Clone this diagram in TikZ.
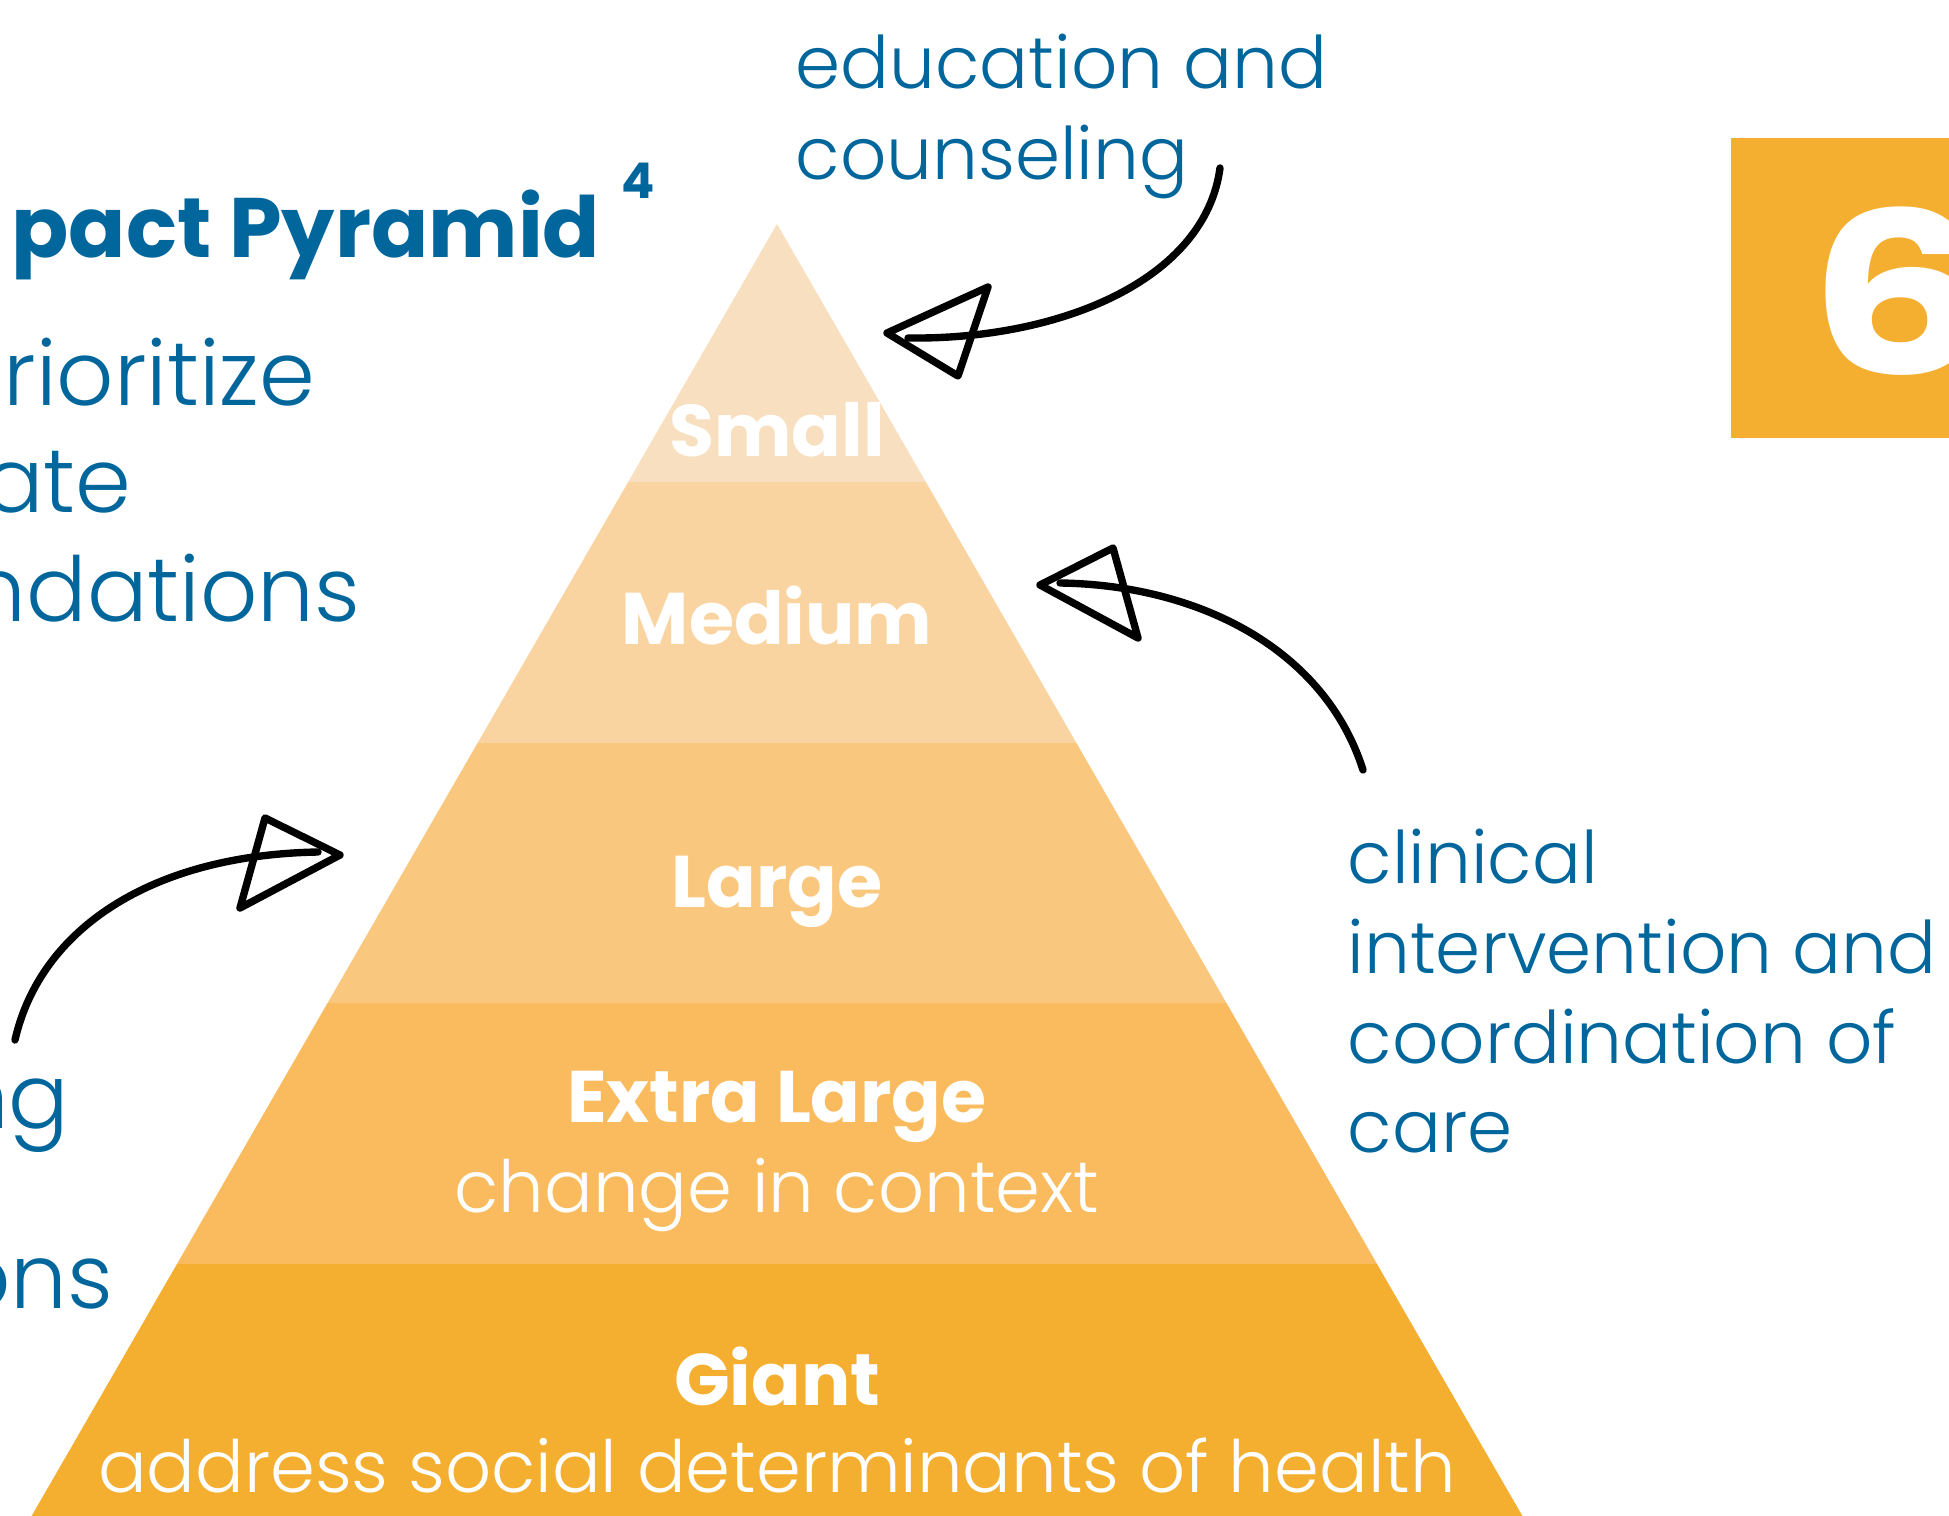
\documentclass[tikz,border=0pt]{standalone}
\usepackage{fontspec}
\setmainfont{Poppins}
\IfFontExistsTF{Poppins Light}{\newfontfamily\lightfont{Poppins Light}}{\newfontfamily\lightfont{Poppins}}
\definecolor{tblue}{HTML}{00669C}
\definecolor{bandA}{HTML}{F8DFBF}
\definecolor{bandB}{HTML}{FAD4A0}
\definecolor{bandC}{HTML}{FAC77E}
\definecolor{bandD}{HTML}{F9BB5D}
\definecolor{bandE}{HTML}{F4AF31}
\definecolor{boxorange}{HTML}{F4AF30}
\tikzset{
  lefttext/.style={text=tblue, inner sep=0pt, font=\lightfont\fontsize{25.5}{30}\selectfont},
  righttext/.style={text=tblue, inner sep=0pt, font=\lightfont\fontsize{20.6}{24}\selectfont, anchor=base west},
  titletext/.style={text=tblue, inner sep=0pt, font=\bfseries\fontsize{24}{28}\selectfont},
  lvlbold/.style={text=white, inner sep=0pt, anchor=base, font=\bfseries\fontsize{20.8}{25}\selectfont},
  lvllight/.style={text=white, inner sep=0pt, anchor=base, font=\lightfont\fontsize{20.5}{24}\selectfont},
  sketch/.style={line width=2.1pt, line cap=round, line join=round, black},
}
\begin{document}
\begin{tikzpicture}[x=0.01cm, y=-0.01cm]
\useasboundingbox (0,0) rectangle (1949,1516);
\clip (0,0) rectangle (1949,1516);
% pyramid
\begin{scope}
  \clip (777,224) -- (31.6,1516) -- (1522.4,1516) -- cycle;
  \fill[bandA] (0,200) rectangle (1949,482);
  \fill[bandB] (0,482) rectangle (1949,743);
  \fill[bandC] (0,743) rectangle (1949,1003);
  \fill[bandD] (0,1003) rectangle (1949,1264);
  \fill[bandE] (0,1264) rectangle (1949,1520);
\end{scope}
% level labels
\node[lvlbold] (small) at (777,457) {Small};
\node[lvlbold] (medium) at (777,644) {Medium};
\node[lvlbold] (large) at (777,907) {Large};
\node[lvlbold] (xlarge) at (777,1122) {Extra Large};
\node[lvllight] (xlargesub) at (777,1212) {change in context};
\node[lvlbold] (giant) at (777,1405) {Giant};
\node[lvllight] (giantsub) at (777,1492) {address social determinants of health};
% orange box
\fill[boxorange] (1731,138) rectangle (1960,438);
\node[inner sep=0pt, anchor=base west, text=white, font=\bfseries\fontsize{64}{66}\selectfont] (six) at (1808,375) {\scalebox{1.25}[1]{6}};
% left texts
\node[titletext, anchor=base east] (title) at (601,258) {pact Pyramid};
\node[inner sep=0pt, anchor=base west, text=tblue, font=\bfseries\fontsize{14}{16}\selectfont] (supfour) at (621,199) {4};
\node[lefttext, anchor=base east] (l1) at (316,406) {rioritize};
\node[lefttext, anchor=base east] (l2) at (132,513) {ate};
\node[lefttext, anchor=base east] (l3) at (361,621) {ndations};
\node[lefttext, anchor=base east] (l4) at (70,1128) {ng};
\node[lefttext, anchor=base east] (l5) at (114,1308) {ons};
% right texts
\node[righttext] (edu1) at (795,89) {education and};
\node[righttext] (edu2) at (795,180) {counseling};
\node[righttext] (cl1) at (1347,883) {clinical};
\node[righttext] (cl2) at (1347,973) {intervention and};
\node[righttext] (cl3) at (1347,1063) {coordination of};
\node[righttext] (cl4) at (1347,1152) {care};
% arrows
\coordinate (a1tail) at (1220,168);
\coordinate (a1end) at (908,338);
\coordinate (a1tip) at (887,333);
\coordinate (a1A) at (988,287);
\coordinate (a1B) at (958,376);
\draw[sketch] (a1tail) .. controls (1205,280) and (1060,340) .. (a1end);
\draw[sketch] (a1tip) -- (a1A) -- (a1B) -- cycle;
\coordinate (a2tail) at (1363,770);
\coordinate (a2end) at (1060,583);
\coordinate (a2tip) at (1040,585);
\coordinate (a2A) at (1113,548);
\coordinate (a2B) at (1138,638);
\draw[sketch] (a2tail) .. controls (1325,650) and (1200,585) .. (a2end);
\draw[sketch] (a2tip) -- (a2A) -- (a2B) -- cycle;
\coordinate (a3tail) at (15,1040);
\coordinate (a3end) at (318,852);
\coordinate (a3tip) at (340,855);
\coordinate (a3A) at (265,818);
\coordinate (a3B) at (240,908);
\draw[sketch] (a3tail) .. controls (40,930) and (150,855) .. (a3end);
\draw[sketch] (a3tip) -- (a3A) -- (a3B) -- cycle;
\end{tikzpicture}
\end{document}
